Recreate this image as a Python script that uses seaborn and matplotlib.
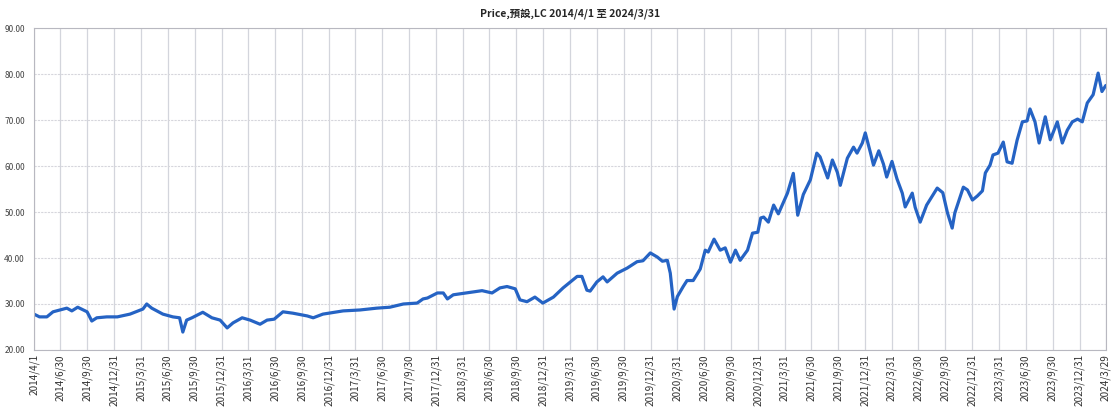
import pandas as pd
import numpy as np
import matplotlib
matplotlib.use("Agg")
import matplotlib.pyplot as plt
import matplotlib.dates as mdates
from matplotlib.ticker import FormatStrFormatter, MultipleLocator
import seaborn as sns

# values
dates = [
    "2014-04-01", "2014-04-20", "2014-05-15", "2014-06-05", "2014-07-22", "2014-08-08", "2014-08-28",
    "2014-09-29", "2014-10-15", "2014-11-01", "2014-12-05", "2015-01-10", "2015-02-22", "2015-04-07",
    "2015-04-20", "2015-05-07", "2015-06-14", "2015-07-18", "2015-08-10", "2015-08-21", "2015-09-03",
    "2015-09-21", "2015-10-28", "2015-11-28", "2015-12-26", "2016-01-19", "2016-02-08", "2016-03-10",
    "2016-04-06", "2016-05-10", "2016-06-03", "2016-06-27", "2016-07-27", "2016-08-30", "2016-10-18",
    "2016-11-07", "2016-12-10", "2017-02-17", "2017-04-15", "2017-06-12", "2017-07-26", "2017-09-10",
    "2017-10-27", "2017-11-16", "2017-12-01", "2018-01-04", "2018-01-24", "2018-02-07", "2018-02-27",
    "2018-05-05", "2018-06-05", "2018-07-09", "2018-08-05", "2018-08-29", "2018-09-26", "2018-10-12",
    "2018-11-05", "2018-12-02", "2018-12-29", "2019-02-03", "2019-03-08", "2019-04-25", "2019-05-11",
    "2019-05-28", "2019-06-08", "2019-07-01", "2019-07-22", "2019-08-05", "2019-09-08", "2019-10-12",
    "2019-11-15", "2019-12-05", "2019-12-30", "2020-01-23", "2020-02-09", "2020-02-26", "2020-03-07",
    "2020-03-20", "2020-03-31", "2020-04-20", "2020-05-03", "2020-05-24", "2020-06-17", "2020-07-04",
    "2020-07-14", "2020-08-03", "2020-08-24", "2020-09-10", "2020-09-28", "2020-10-15", "2020-10-31",
    "2020-11-25", "2020-12-12", "2020-12-30", "2021-01-09", "2021-01-19", "2021-02-04", "2021-02-22",
    "2021-03-10", "2021-04-10", "2021-04-30", "2021-05-15", "2021-06-03", "2021-06-27", "2021-07-19",
    "2021-07-30", "2021-08-25", "2021-09-10", "2021-09-27", "2021-10-07", "2021-10-31", "2021-11-21",
    "2021-12-03", "2021-12-21", "2021-12-31", "2022-01-18", "2022-01-28", "2022-02-15", "2022-03-03",
    "2022-03-14", "2022-04-01", "2022-04-18", "2022-05-06", "2022-05-16", "2022-06-09", "2022-06-19",
    "2022-07-06", "2022-07-28", "2022-09-02", "2022-09-21", "2022-10-07", "2022-10-23", "2022-11-01",
    "2022-11-30", "2022-12-14", "2022-12-31", "2023-01-17", "2023-02-03", "2023-02-13", "2023-03-01",
    "2023-03-11", "2023-03-28", "2023-04-15", "2023-04-28", "2023-05-15", "2023-06-01", "2023-06-19",
    "2023-07-05", "2023-07-15", "2023-08-01", "2023-08-15", "2023-09-05", "2023-09-22", "2023-10-16",
    "2023-11-02", "2023-11-19", "2023-12-06", "2023-12-24", "2024-01-09", "2024-01-26", "2024-02-15",
    "2024-03-03", "2024-03-16", "2024-03-29",
]
prices = [
    27.8, 27.2, 27.2, 28.3, 29.1, 28.5, 29.3,
    28.3, 26.3, 27.0, 27.2, 27.2, 27.8, 28.9,
    30.0, 29.1, 27.8, 27.2, 27.0, 23.9, 26.5,
    27.0, 28.2, 27.0, 26.5, 24.8, 25.9, 27.0,
    26.5, 25.6, 26.5, 26.7, 28.3, 28.0, 27.4,
    27.0, 27.8, 28.5, 28.7, 29.1, 29.3, 30.0,
    30.2, 31.1, 31.3, 32.4, 32.4, 31.1, 32.0,
    32.6, 32.9, 32.4, 33.5, 33.8, 33.3, 30.9,
    30.5, 31.5, 30.2, 31.5, 33.5, 36.0, 36.0,
    33.0, 32.8, 34.8, 35.9, 34.8, 36.7, 37.8,
    39.2, 39.4, 41.1, 40.2, 39.3, 39.5, 36.7,
    28.9, 31.6, 33.8, 35.1, 35.1, 37.6, 41.7,
    41.3, 44.1, 41.7, 42.2, 39.1, 41.7, 39.5,
    41.7, 45.4, 45.6, 48.7, 48.9, 47.8, 51.5,
    49.6, 54.1, 58.4, 49.3, 53.8, 57.0, 62.8,
    62.0, 57.4, 61.3, 58.6, 55.8, 61.7, 64.1,
    62.8, 65.0, 67.2, 62.8, 60.2, 63.3, 60.4,
    57.6, 61.0, 57.2, 54.1, 51.1, 54.1, 51.0,
    47.8, 51.5, 55.2, 54.2, 49.8, 46.5, 49.8,
    55.4, 54.8, 52.6, 53.5, 54.6, 58.5, 60.2,
    62.4, 62.8, 65.2, 60.9, 60.6, 65.6, 69.6,
    69.8, 72.4, 69.6, 65.0, 70.7, 65.7, 69.6,
    65.0, 67.8, 69.6, 70.2, 69.6, 73.7, 75.5,
    80.2, 76.2, 77.5,
]

title = "Price,預設,LC 2014/4/1 至 2024/3/31"
start_date = "2014-04-01"
end_date = "2024-03-29"

df = pd.DataFrame({"Date": pd.to_datetime(dates), "Price": prices})

sns.set_style("white")
plt.rcParams["font.family"] = ["Noto Sans CJK TC", "DejaVu Sans"]

fig = plt.figure(figsize=(11.13, 4.12), dpi=100)
ax = fig.add_axes([0.0305, 0.1505, 0.963, 0.7815])

sns.lineplot(data=df, x="Date", y="Price", ax=ax, color="#2563c4", linewidth=2.3)

# x ticks: first day, every quarter end, last day
ticks = [pd.Timestamp(start_date)] + list(pd.date_range("2014-06-30", "2023-12-31", freq="QE")) + [pd.Timestamp(end_date)]
labels = [f"{t.year}/{t.month}/{t.day}" for t in ticks]
ax.set_xticks(ticks)
ax.set_xticklabels(labels, rotation=90, fontsize=7.2, color="#333333")
ax.set_xlim(pd.Timestamp(start_date), pd.Timestamp(end_date))

ax.set_ylim(20, 90)
ax.yaxis.set_major_locator(MultipleLocator(10))
ax.yaxis.set_minor_locator(MultipleLocator(2))
ax.yaxis.set_major_formatter(FormatStrFormatter("%.2f"))
ax.tick_params(axis="y", which="major", labelsize=6, colors="#444444", length=3, width=0.6)
ax.tick_params(axis="y", which="minor", length=2, width=0.5, color="#999999")
ax.tick_params(axis="x", length=2, width=0.6, color="#999999", pad=1)

ax.grid(axis="x", color="#d3d5dc", linewidth=0.9, linestyle="-")
ax.grid(axis="y", color="#d6d6dc", linewidth=0.8, linestyle=(0, (2, 1)))
for s in ax.spines.values():
    s.set_color("#b8b8c0")
    s.set_linewidth(0.8)

ax.set_xlabel("")
ax.set_ylabel("")
ax.set_title(title, fontsize=7.5, fontweight="bold", pad=8)

fig.savefig("out.png", dpi=100)
